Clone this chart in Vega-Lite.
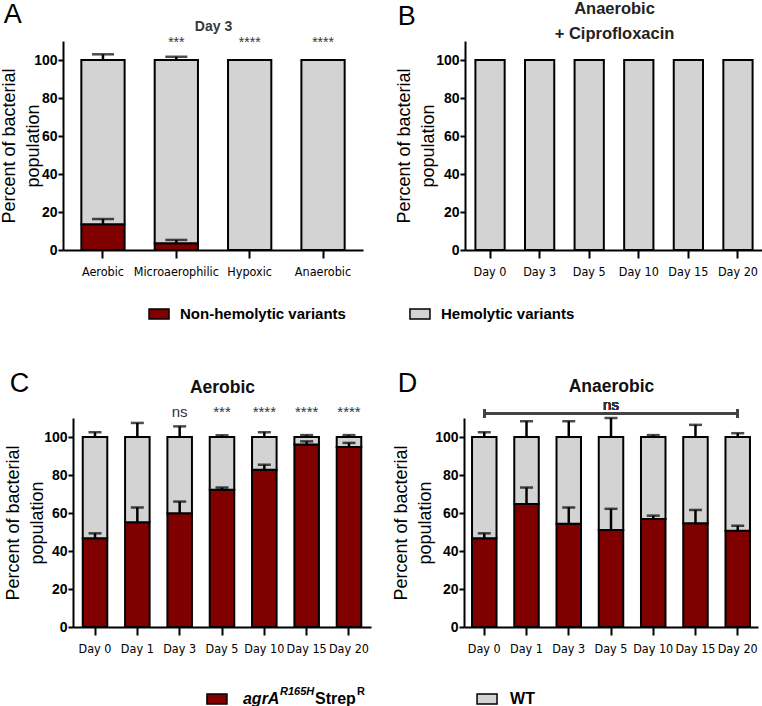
{
  "$schema": "https://vega.github.io/schema/vega-lite/v6.json",
  "background": "white",
  "padding": {"left": 0, "top": 0, "right": 0, "bottom": 0},
  "config": {
    "font": "Liberation Sans",
    "view": {"stroke": null},
    "axis": {"grid": false, "domainColor": "black", "domainWidth": 2, "tickColor": "black", "tickWidth": 2, "labelColor": "black", "titleColor": "black"},
    "title": {"color": "black"}
  },
  "resolve": {"scale": {"x": "independent", "y": "independent"}},
  "spacing": 46,
  "vconcat": [
    {
      "spacing": 26,
      "resolve": {"scale": {"x": "independent", "y": "independent"}},
      "vconcat": [
        {
          "bounds": "flush",
          "spacing": 102,
          "resolve": {"scale": {"x": "independent", "y": "independent"}},
          "hconcat": [
            {
              "width": 300, "height": 209,
              "title": {"text": "A", "anchor": "start", "frame": "bounds", "fontSize": 27, "fontWeight": "normal", "offset": -10, "dx": 3},
              "data": {"values": [
                {"cond": "Aerobic", "type": "Non-hemolytic variants", "lo": 0, "hi": 13.5, "err": 16.3, "sig": ""},
                {"cond": "Aerobic", "type": "Hemolytic variants", "lo": 13.5, "hi": 100, "err": 103, "sig": ""},
                {"cond": "Microaerophilic", "type": "Non-hemolytic variants", "lo": 0, "hi": 3.5, "err": 5.3, "sig": ""},
                {"cond": "Microaerophilic", "type": "Hemolytic variants", "lo": 3.5, "hi": 100, "err": 101.7, "sig": "***"},
                {"cond": "Hypoxic", "type": "Hemolytic variants", "lo": 0, "hi": 100, "err": 100, "sig": "****"},
                {"cond": "Anaerobic", "type": "Hemolytic variants", "lo": 0, "hi": 100, "err": 100, "sig": "****"}
              ]},
              "resolve": {"axis": {"x": "independent"}},
              "layer": [
                {
                  "mark": {"type": "bar", "stroke": "black", "strokeWidth": 2},
                  "encoding": {
                    "x": {"field": "cond", "type": "nominal", "sort": null, "scale": {"paddingInner": 0.41, "paddingOuter": 0.25},
                      "axis": {"orient": "bottom", "title": null, "labelAngle": 0, "labelFontSize": 12.5, "labelFont": "DejaVu Sans Condensed", "tickSize": 8, "labelPadding": 7}},
                    "y": {"field": "hi", "type": "quantitative", "scale": {"domain": [0, 110]},
                      "axis": {"values": [0, 20, 40, 60, 80, 100], "title": ["Percent of bacterial", "population"], "titleFontSize": 18, "titleFontWeight": "normal", "titleLineHeight": 24, "titlePadding": -9, "labelFontSize": 14, "labelFontWeight": "bold", "tickSize": 5, "labelPadding": 1}},
                    "y2": {"field": "lo"},
                    "color": {"condition": {"test": "datum.type == 'Hemolytic variants'", "value": "#d3d3d3"}, "value": "#800000"}
                  }
                },
                {
                  "transform": [{"filter": "datum.err > datum.hi"}],
                  "mark": {"type": "rule", "color": "black", "strokeWidth": 2.5},
                  "encoding": {
                    "x": {"field": "cond", "type": "nominal", "sort": null, "axis": null},
                    "y": {"field": "hi", "type": "quantitative"},
                    "y2": {"field": "err"}
                  }
                },
                {
                  "transform": [{"filter": "datum.err > datum.hi"}],
                  "mark": {"type": "tick", "color": "black", "orient": "horizontal", "thickness": 2.5, "size": 22},
                  "encoding": {
                    "x": {"field": "cond", "type": "nominal", "sort": null, "axis": null},
                    "y": {"field": "err", "type": "quantitative"}
                  }
                },
                {
                  "transform": [{"filter": "datum.sig != ''"}],
                  "mark": {"type": "text", "fontSize": 14, "color": "#333", "baseline": "middle"},
                  "encoding": {
                    "x": {"field": "cond", "type": "nominal", "sort": null,
                      "axis": {"orient": "top", "title": "Day 3", "labels": false, "ticks": false, "domain": false, "titleFontSize": 14, "titleFontWeight": "bold", "titleColor": "#3a3a3a", "titlePadding": 8}},
                    "y": {"datum": 109},
                    "text": {"field": "sig"}
                  }
                }
              ]
            },
            {
              "width": 298, "height": 209,
              "title": {"text": "B", "anchor": "start", "frame": "bounds", "fontSize": 27, "fontWeight": "normal", "offset": -31, "dx": 2},
              "data": {"values": [
                {"day": "Day 0", "type": "Hemolytic variants", "lo": 0, "hi": 100},
                {"day": "Day 3", "type": "Hemolytic variants", "lo": 0, "hi": 100},
                {"day": "Day 5", "type": "Hemolytic variants", "lo": 0, "hi": 100},
                {"day": "Day 10", "type": "Hemolytic variants", "lo": 0, "hi": 100},
                {"day": "Day 15", "type": "Hemolytic variants", "lo": 0, "hi": 100},
                {"day": "Day 20", "type": "Hemolytic variants", "lo": 0, "hi": 100}
              ]},
              "resolve": {"axis": {"x": "independent"}},
              "layer": [
                {
                  "mark": {"type": "bar", "color": "#d3d3d3"},
                  "encoding": {
                    "x": {"field": "day", "type": "nominal", "sort": null, "scale": {"paddingInner": 0.41, "paddingOuter": 0.21},
                      "axis": {"orient": "top", "title": ["Anaerobic", "+ Ciprofloxacin"], "labels": false, "ticks": false, "domain": false, "titleFontSize": 16.5, "titleFontWeight": "bold", "titleColor": "#222", "titleLineHeight": 25, "titlePadding": 0}},
                    "y": {"field": "hi", "type": "quantitative", "scale": {"domain": [0, 110]},
                      "axis": {"values": [0, 20, 40, 60, 80, 100], "title": ["Percent of bacterial", "population"], "titleFontSize": 18, "titleFontWeight": "normal", "titleLineHeight": 24, "titlePadding": -2, "labelFontSize": 14, "labelFontWeight": "bold", "tickSize": 5, "labelPadding": 1}},
                    "y2": {"field": "lo"}
                  }
                },
                {
                  "mark": {"type": "bar", "fillOpacity": 0, "stroke": "black", "strokeWidth": 2},
                  "encoding": {
                    "x": {"field": "day", "type": "nominal", "sort": null,
                      "axis": {"orient": "bottom", "title": null, "labelAngle": 0, "labelFontSize": 12.5, "labelFont": "DejaVu Sans Condensed", "tickSize": 8, "labelPadding": 7}},
                    "y": {"field": "hi", "type": "quantitative"},
                    "y2": {"field": "lo"}
                  }
                }
              ]
            }
          ]
        },
        {
          "width": 453, "height": 20,
          "data": {"values": [{"label": "Non-hemolytic variants"}, {"label": "Hemolytic variants"}]},
          "encoding": {"x": {"field": "label", "type": "nominal", "sort": null, "scale": {"type": "point", "padding": 0.368}, "axis": null}},
          "layer": [
            {
              "mark": {"type": "point", "shape": "M-1,-0.5H1V0.5H-1Z", "filled": true, "size": 400, "stroke": "black", "strokeWidth": 1.5, "opacity": 1},
              "encoding": {"color": {"condition": {"test": "datum.label == 'Hemolytic variants'", "value": "#d3d3d3"}, "value": "#800000"}}
            },
            {
              "mark": {"type": "text", "align": "left", "baseline": "middle", "dx": 21, "fontSize": 15, "fontWeight": "bold", "color": "black"},
              "encoding": {"text": {"field": "label"}}
            }
          ]
        }
      ]
    },
    {
      "spacing": 31,
      "resolve": {"scale": {"x": "independent", "y": "independent"}},
      "vconcat": [
        {
          "bounds": "flush",
          "spacing": 93,
          "resolve": {"scale": {"x": "independent", "y": "independent"}},
          "hconcat": [
            {
              "width": 308, "height": 209,
              "title": {"text": "C", "anchor": "start", "frame": "bounds", "fontSize": 27, "fontWeight": "normal", "offset": -20, "dx": 5},
              "data": {"values": [
                {"day": "Day 0", "type": "agrA", "lo": 0, "hi": 46.7, "err": 49.3, "sig": ""},
                {"day": "Day 0", "type": "WT", "lo": 46.7, "hi": 100, "err": 102.5, "sig": ""},
                {"day": "Day 1", "type": "agrA", "lo": 0, "hi": 55.1, "err": 62.9, "sig": ""},
                {"day": "Day 1", "type": "WT", "lo": 55.1, "hi": 100, "err": 107.4, "sig": ""},
                {"day": "Day 3", "type": "agrA", "lo": 0, "hi": 59.9, "err": 66, "sig": ""},
                {"day": "Day 3", "type": "WT", "lo": 59.9, "hi": 100, "err": 105.6, "sig": "ns"},
                {"day": "Day 5", "type": "agrA", "lo": 0, "hi": 72.2, "err": 73.4, "sig": ""},
                {"day": "Day 5", "type": "WT", "lo": 72.2, "hi": 100, "err": 100.9, "sig": "***"},
                {"day": "Day 10", "type": "agrA", "lo": 0, "hi": 82.8, "err": 85.4, "sig": ""},
                {"day": "Day 10", "type": "WT", "lo": 82.8, "hi": 100, "err": 102.5, "sig": "****"},
                {"day": "Day 15", "type": "agrA", "lo": 0, "hi": 96, "err": 97.7, "sig": ""},
                {"day": "Day 15", "type": "WT", "lo": 96, "hi": 100, "err": 101, "sig": "****"},
                {"day": "Day 20", "type": "agrA", "lo": 0, "hi": 94.8, "err": 96.9, "sig": ""},
                {"day": "Day 20", "type": "WT", "lo": 94.8, "hi": 100, "err": 101, "sig": "****"}
              ]},
              "resolve": {"axis": {"x": "independent"}},
              "layer": [
                {
                  "mark": {"type": "bar", "stroke": "black", "strokeWidth": 2},
                  "encoding": {
                    "x": {"field": "day", "type": "nominal", "sort": null, "scale": {"range": [10, 308], "paddingInner": 0.42, "paddingOuter": 0.23},
                      "axis": {"orient": "bottom", "title": null, "labelAngle": 0, "labelFontSize": 12.5, "labelFont": "DejaVu Sans Condensed", "tickSize": 8, "labelPadding": 7}},
                    "y": {"field": "hi", "type": "quantitative", "scale": {"domain": [0, 110]},
                      "axis": {"offset": -10, "values": [0, 20, 40, 60, 80, 100], "title": ["Percent of bacterial", "population"], "titleFontSize": 18, "titleFontWeight": "normal", "titleLineHeight": 24, "titlePadding": -3, "labelFontSize": 14, "labelFontWeight": "bold", "tickSize": 5, "labelPadding": 1}},
                    "y2": {"field": "lo"},
                    "color": {"condition": {"test": "datum.type == 'WT'", "value": "#d3d3d3"}, "value": "#800000"}
                  }
                },
                {
                  "transform": [{"filter": "datum.err > datum.hi"}],
                  "mark": {"type": "rule", "color": "black", "strokeWidth": 2.5},
                  "encoding": {
                    "x": {"field": "day", "type": "nominal", "sort": null, "axis": null},
                    "y": {"field": "hi", "type": "quantitative"},
                    "y2": {"field": "err"}
                  }
                },
                {
                  "transform": [{"filter": "datum.err > datum.hi"}],
                  "mark": {"type": "tick", "color": "black", "orient": "horizontal", "thickness": 2.5, "size": 13},
                  "encoding": {
                    "x": {"field": "day", "type": "nominal", "sort": null, "axis": null},
                    "y": {"field": "err", "type": "quantitative"}
                  }
                },
                {
                  "transform": [{"filter": "datum.sig != ''"}],
                  "mark": {"type": "text", "fontSize": 15, "color": "#333", "baseline": "middle"},
                  "encoding": {
                    "x": {"field": "day", "type": "nominal", "sort": null,
                      "axis": {"orient": "top", "title": "Aerobic", "labels": false, "ticks": false, "domain": false, "titleFontSize": 17.5, "titleFontWeight": "bold", "titleColor": "#111", "titlePadding": 22}},
                    "y": {"datum": 113},
                    "text": {"field": "sig"}
                  }
                }
              ]
            },
            {
              "width": 294, "height": 209,
              "title": {"text": "D", "anchor": "start", "frame": "bounds", "fontSize": 27, "fontWeight": "normal", "offset": -21, "dx": 5},
              "data": {"values": [
                {"day": "Day 0", "type": "agrA", "lo": 0, "hi": 46.7, "err": 49.3},
                {"day": "Day 0", "type": "WT", "lo": 46.7, "hi": 100, "err": 102.5},
                {"day": "Day 1", "type": "agrA", "lo": 0, "hi": 64.8, "err": 73.4},
                {"day": "Day 1", "type": "WT", "lo": 64.8, "hi": 100, "err": 108.3},
                {"day": "Day 3", "type": "agrA", "lo": 0, "hi": 54.3, "err": 62.9},
                {"day": "Day 3", "type": "WT", "lo": 54.3, "hi": 100, "err": 108.3},
                {"day": "Day 5", "type": "agrA", "lo": 0, "hi": 51.1, "err": 62.2},
                {"day": "Day 5", "type": "WT", "lo": 51.1, "hi": 100, "err": 110},
                {"day": "Day 10", "type": "agrA", "lo": 0, "hi": 56.9, "err": 58.6},
                {"day": "Day 10", "type": "WT", "lo": 56.9, "hi": 100, "err": 101},
                {"day": "Day 15", "type": "agrA", "lo": 0, "hi": 54.6, "err": 61.6},
                {"day": "Day 15", "type": "WT", "lo": 54.6, "hi": 100, "err": 106.4},
                {"day": "Day 20", "type": "agrA", "lo": 0, "hi": 50.7, "err": 53.3},
                {"day": "Day 20", "type": "WT", "lo": 50.7, "hi": 100, "err": 102}
              ]},
              "resolve": {"axis": {"x": "independent"}},
              "layer": [
                {
                  "mark": {"type": "bar", "stroke": "black", "strokeWidth": 2},
                  "encoding": {
                    "x": {"field": "day", "type": "nominal", "sort": null, "scale": {"paddingInner": 0.42, "paddingOuter": 0.19},
                      "axis": {"orient": "bottom", "title": null, "labelAngle": 0, "labelFontSize": 12.5, "labelFont": "DejaVu Sans Condensed", "tickSize": 8, "labelPadding": 7}},
                    "y": {"field": "hi", "type": "quantitative", "scale": {"domain": [0, 110]},
                      "axis": {"values": [0, 20, 40, 60, 80, 100], "title": ["Percent of bacterial", "population"], "titleFontSize": 18, "titleFontWeight": "normal", "titleLineHeight": 24, "titlePadding": 0, "labelFontSize": 14, "labelFontWeight": "bold", "tickSize": 5, "labelPadding": 1}},
                    "y2": {"field": "lo"},
                    "color": {"condition": {"test": "datum.type == 'WT'", "value": "#d3d3d3"}, "value": "#800000"}
                  }
                },
                {
                  "transform": [{"filter": "datum.err > datum.hi"}],
                  "mark": {"type": "rule", "color": "black", "strokeWidth": 2.5},
                  "encoding": {
                    "x": {"field": "day", "type": "nominal", "sort": null, "axis": null},
                    "y": {"field": "hi", "type": "quantitative"},
                    "y2": {"field": "err"}
                  }
                },
                {
                  "transform": [{"filter": "datum.err > datum.hi"}],
                  "mark": {"type": "tick", "color": "black", "orient": "horizontal", "thickness": 2.5, "size": 13},
                  "encoding": {
                    "x": {"field": "day", "type": "nominal", "sort": null, "axis": null},
                    "y": {"field": "err", "type": "quantitative"}
                  }
                },
                {
                  "mark": {"type": "rule", "color": "#444", "strokeWidth": 2},
                  "encoding": {
                    "x": {"datum": "Day 0", "type": "nominal", "axis": null},
                    "x2": {"datum": "Day 20"},
                    "y": {"datum": 112.2}
                  }
                },
                {
                  "mark": {"type": "rule", "color": "#444", "strokeWidth": 2},
                  "encoding": {
                    "x": {"datum": "Day 0", "type": "nominal", "axis": null},
                    "y": {"datum": 110},
                    "y2": {"datum": 114.6}
                  }
                },
                {
                  "mark": {"type": "rule", "color": "#444", "strokeWidth": 2},
                  "encoding": {
                    "x": {"datum": "Day 20", "type": "nominal", "axis": null},
                    "y": {"datum": 110},
                    "y2": {"datum": 114.6}
                  }
                },
                {
                  "mark": {"type": "text", "fontSize": 15, "color": "#333", "baseline": "middle"},
                  "encoding": {
                    "x": {"datum": "Day 5", "type": "nominal",
                      "axis": {"orient": "top", "title": "Anaerobic", "labels": false, "ticks": false, "domain": false, "titleFontSize": 17.5, "titleFontWeight": "bold", "titleColor": "#111", "titlePadding": 23}},
                    "y": {"datum": 116.9},
                    "text": {"value": "ns"}
                  }
                }
              ]
            }
          ]
        },
        {
          "width": 578, "height": 20,
          "data": {"values": [
            {"key": "agrA", "name": "agrA", "sup": "R165H", "name2": "Strep", "sup2": "R"},
            {"key": "WT", "name": "WT", "sup": "", "name2": "", "sup2": ""}
          ]},
          "encoding": {"x": {"field": "key", "type": "nominal", "sort": null, "scale": {"type": "point", "padding": 0.57}, "axis": null}},
          "layer": [
            {
              "mark": {"type": "point", "shape": "M-1,-0.5H1V0.5H-1Z", "filled": true, "size": 400, "stroke": "black", "strokeWidth": 1.5, "opacity": 1},
              "encoding": {"color": {"condition": {"test": "datum.key == 'WT'", "value": "#d3d3d3"}, "value": "#800000"}}
            },
            {
              "transform": [{"filter": "datum.key == 'agrA'"}],
              "mark": {"type": "text", "align": "left", "baseline": "middle", "dx": 26, "fontSize": 16, "fontWeight": "bold", "fontStyle": "italic", "color": "black"},
              "encoding": {"text": {"field": "name"}}
            },
            {
              "transform": [{"filter": "datum.key == 'agrA'"}],
              "mark": {"type": "text", "align": "left", "baseline": "middle", "dx": 63, "dy": -7, "fontSize": 11, "fontWeight": "bold", "fontStyle": "italic", "color": "black"},
              "encoding": {"text": {"field": "sup"}}
            },
            {
              "transform": [{"filter": "datum.key == 'agrA'"}],
              "mark": {"type": "text", "align": "left", "baseline": "middle", "dx": 98, "fontSize": 16, "fontWeight": "bold", "color": "black"},
              "encoding": {"text": {"field": "name2"}}
            },
            {
              "transform": [{"filter": "datum.key == 'agrA'"}],
              "mark": {"type": "text", "align": "left", "baseline": "middle", "dx": 140, "dy": -7, "fontSize": 11, "fontWeight": "bold", "color": "black"},
              "encoding": {"text": {"field": "sup2"}}
            },
            {
              "transform": [{"filter": "datum.key == 'WT'"}],
              "mark": {"type": "text", "align": "left", "baseline": "middle", "dx": 23, "fontSize": 16, "fontWeight": "bold", "color": "black"},
              "encoding": {"text": {"field": "name"}}
            }
          ]
        }
      ]
    }
  ]
}
